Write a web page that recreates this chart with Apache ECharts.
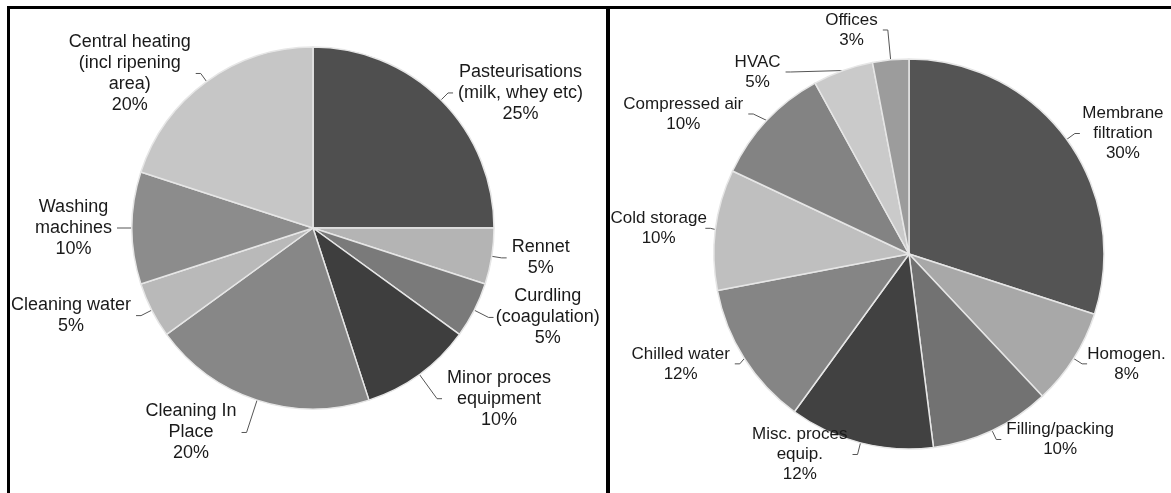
<!DOCTYPE html>
<html>
<head>
<meta charset="utf-8">
<script src="https://cdn.jsdelivr.net/npm/echarts@6/dist/echarts.min.js"></script>
<style>
    body { margin: 0; background: #fff; overflow: hidden; }
    .pie { position: absolute; top: 0; height: 493px; }
    .rule { position: absolute; background: #000; z-index: 2; }
</style>
</head>
<body>
<div id="cheesePie" class="pie" style="left:0;width:607px;"></div>
<div id="wheyPie" class="pie" style="left:607px;width:564px;"></div>
<div class="rule" style="left:7px;top:6px;width:1164px;height:3px;"></div>
<div class="rule" style="left:7px;top:6px;width:3px;height:487px;"></div>
<div class="rule" style="left:606px;top:6px;width:4px;height:487px;"></div>
<script>
// left pie: cheese plant
var cheeseNames = ['Pasteurisations\n(milk, whey etc)', 'Rennet', 'Curdling\n(coagulation)',
    'Minor proces\nequipment', 'Cleaning In\nPlace', 'Cleaning water', 'Washing\nmachines',
    'Central heating\n(incl ripening\narea)'];
var cheeseValues = [25, 5, 5, 10, 20, 5, 10, 20];

// right pie: whey processing
var wheyNames = ['Membrane\nfiltration', 'Homogen.', 'Filling/packing', 'Misc. proces\nequip.',
    'Chilled water', 'Cold storage', 'Compressed air', 'HVAC', 'Offices'];
var wheyValues = [30, 8, 10, 12, 12, 10, 10, 5, 3];

// styling per slice (greys + leader line lengths)
var cheeseColors = ['#4f4f4f', '#b4b4b4', '#7a7a7a', '#3e3e3e', '#878787', '#b9b9b9', '#8c8c8c', '#c6c6c6'];
var cheeseLines = [10, 10, 16, 30, 34, 12, 10, 10];
var wheyColors = ['#545454', '#a8a8a8', '#727272', '#414141', '#858585', '#bfbfbf', '#838383', '#cacaca', '#9c9c9c'];
var wheyLines = [10, 10, 10, 12, 10, 10, 10, 14, 30];

function buildPie(id, names, values, colors, lens, center, radius, fontSize, lineH) {
    var myChart = echarts.init(document.getElementById(id));
    var data = [];
    for (var i = 0; i < names.length; i++) {
        data.push({
            name: names[i],
            value: values[i],
            itemStyle: {color: colors[i]},
            labelLine: {length: lens[i]}
        });
    }
    myChart.setOption({
        animation: false,
        series: [{
            type: 'pie',
            center: center,
            radius: radius,
            startAngle: 90,
            clockwise: true,
            data: data,
            itemStyle: {borderColor: '#e6e6e6', borderWidth: 1.5},
            label: {
                show: true,
                position: 'outside',
                overflow: 'none',
                color: '#1a1a1a',
                fontFamily: 'Liberation Sans',
                fontSize: fontSize,
                lineHeight: lineH,
                formatter: function (p) {
                    var lines = p.name.split('\n');
                    lines.push(p.value + '%');
                    return lines.map(function (l) { return '{t|' + l + '}'; }).join('\n');
                },
                rich: {
                    t: {align: 'center', fontSize: fontSize, lineHeight: lineH, color: '#1a1a1a', fontFamily: 'Liberation Sans'}
                }
            },
            labelLine: {
                show: true,
                length: 10,
                length2: 5,
                lineStyle: {color: '#555', width: 1}
            }
        }]
    });
}

buildPie('cheesePie', cheeseNames, cheeseValues, cheeseColors, cheeseLines, [313, 228], 181, 18, 21);
buildPie('wheyPie', wheyNames, wheyValues, wheyColors, wheyLines, [302, 254], 195, 17, 20);
</script>
</body>
</html>
